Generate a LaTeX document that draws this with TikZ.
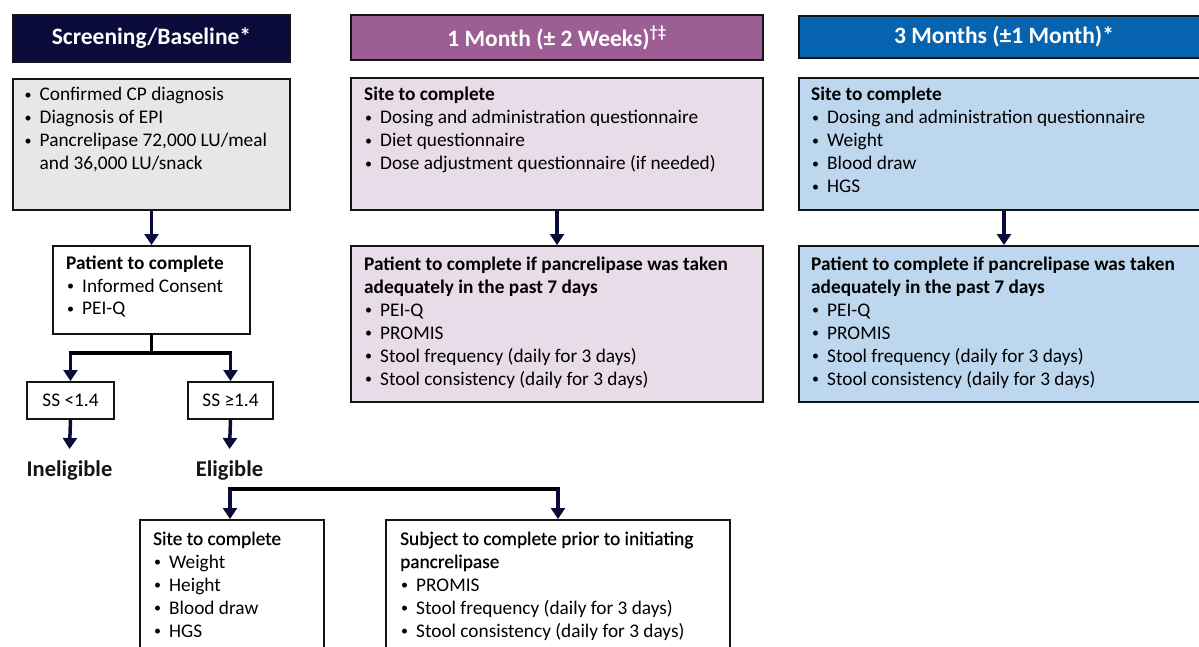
\documentclass[tikz,border=0pt]{standalone}
\usepackage{fontspec}
\setmainfont{Carlito}
\newfontfamily\semib{Carlito}[FakeBold=0.5]
\usetikzlibrary{arrows.meta}
\definecolor{navy}{HTML}{0B0B3B}
\definecolor{bordc}{HTML}{151515}
\definecolor{purph}{HTML}{9C5E93}
\definecolor{purpl}{HTML}{E8DCE9}
\definecolor{blueh}{HTML}{0563AF}
\definecolor{bluel}{HTML}{BDD7EE}
\definecolor{grayl}{HTML}{E7E7E7}
\newcommand{\bdot}{\hspace*{1pt}\raisebox{1.8pt}{\fontsize{14}{14}\selectfont •}}
\newcommand{\bitem}[1]{\par\hangindent=16pt\hangafter=1\noindent\makebox[16pt][l]{\bdot}#1}
\begin{document}
\begin{tikzpicture}[x=1pt,y=-1pt,
  box/.style={draw=bordc, line width=2pt, anchor=north west, inner sep=0pt},
  hdr/.style={draw=bordc, line width=2pt, anchor=north west, inner sep=0pt, text=white, font=\fontsize{23.5}{27}\selectfont\bfseries},
  txt/.style={anchor=base west, inner sep=0pt, font=\fontsize{19.3}{23}\selectfont},
  sstxt/.style={font=\fontsize{19.3}{23}\selectfont},
  lbl/.style={anchor=north, inner xsep=0pt, inner ysep=12pt, font=\fontsize{22.5}{26}\selectfont\bfseries, text=bordc},
  arr/.style={draw=navy, line width=3.5pt, -{Triangle[length=11pt,width=14pt]}},
  lnk/.style={draw=black, line width=3.5pt, line cap=rect}]
\useasboundingbox (0,0) rectangle (1199,647);
\clip (0,0) rectangle (1199,647);
\fill[white] (0,0) rectangle (1199,647);

% headers
\node[hdr, fill=navy, minimum width=277pt, minimum height=47pt] (h1) at (12,14) {Screening/Baseline*};
\node[hdr, fill=purph, minimum width=412pt, minimum height=45pt] (h2) at (350,14) {1 Month (± 2 Weeks)\textsuperscript{†‡}};
\node[hdr, fill=blueh, minimum width=410pt, minimum height=42pt] (h3) at (798,15) {3 Months (±1 Month)*};

% boxes
\node[box, fill=grayl, minimum width=277pt, minimum height=131pt] (g1) at (12,78) {};
\node[box, fill=white, minimum width=197pt, minimum height=88pt] (pat) at (52,245) {};
\node[box, fill=white, minimum width=87pt, minimum height=37pt, anchor=north west, sstxt] (ss1) at (26,381) {SS <1.4};
\node[box, fill=white, minimum width=85pt, minimum height=37pt, anchor=north west, sstxt] (ss2) at (187,381) {SS ≥1.4};
\node[box, fill=purpl, minimum width=412pt, minimum height=132pt] (p1) at (350,77) {};
\node[box, fill=purpl, minimum width=412pt, minimum height=156pt] (p2) at (350,245) {};
\node[box, fill=bluel, minimum width=410pt, minimum height=132pt] (b1) at (798,77) {};
\node[box, fill=bluel, minimum width=410pt, minimum height=156pt] (b2) at (798,245) {};
\node[box, fill=white, minimum width=184pt, minimum height=150pt] (site) at (139,519) {};
\node[box, fill=white, minimum width=344pt, minimum height=150pt] (subj) at (385,519) {};

% labels
\node[lbl] (inel) at (69.5,449) {Ineligible};
\node[lbl] (elig) at (229.5,449) {Eligible};

% texts
\node[txt] (tg1) at (23.5,101) {\parbox[t]{262pt}{\bitem{Confirmed CP diagnosis}\bitem{Diagnosis of EPI}\bitem{Pancrelipase 72,000 LU/meal\newline and 36,000 LU/snack}}};
\node[txt] (tpat) at (66,269) {\parbox[t]{180pt}{\textbf{Patient to complete}\bitem{Informed Consent}\bitem{PEI-Q}}};
\node[txt] (tp1) at (364,101) {\parbox[t]{395pt}{\textbf{Site to complete}\bitem{Dosing and administration questionnaire}\bitem{Diet questionnaire}\bitem{Dose adjustment questionnaire (if needed)}}};
\node[txt] (tp2) at (364,270) {\parbox[t]{395pt}{\textbf{Patient to complete if pancrelipase was taken\newline adequately in the past 7 days}\bitem{PEI-Q}\bitem{PROMIS}\bitem{Stool frequency (daily for 3 days)}\bitem{Stool consistency (daily for 3 days)}}};
\node[txt] (tb1) at (811,101) {\parbox[t]{395pt}{\textbf{Site to complete}\bitem{Dosing and administration questionnaire}\bitem{Weight}\bitem{Blood draw}\bitem{HGS}}};
\node[txt] (tb2) at (811,270) {\parbox[t]{395pt}{\textbf{Patient to complete if pancrelipase was taken\newline adequately in the past 7 days}\bitem{PEI-Q}\bitem{PROMIS}\bitem{Stool frequency (daily for 3 days)}\bitem{Stool consistency (daily for 3 days)}}};
\node[txt] (tsite) at (153,545) {\parbox[t]{165pt}{{\semib Site to complete}\bitem{Weight}\bitem{Height}\bitem{Blood draw}\bitem{HGS}}};
\node[txt] (tsubj) at (400,545) {\parbox[t]{325pt}{{\semib Subject to complete prior to initiating\newline pancrelipase}\bitem{PROMIS}\bitem{Stool frequency (daily for 3 days)}\bitem{Stool consistency (daily for 3 days)}}};

% connectors
\draw[arr] (g1.south) -- (pat.north);
\draw[arr] (p1.south) -- (p2.north);
\draw[arr] (b1.south) -- (b2.north);

\path (pat.south) ++(0,18) coordinate (j1);
\draw[lnk] (pat.south) -- (j1);
\draw[lnk] (ss1.north |- j1) -- (ss2.north |- j1);
\draw[arr] (ss1.north |- j1) -- (ss1.north);
\draw[arr] (ss2.north |- j1) -- (ss2.north);

\draw[arr] (ss1.south) -- (inel.north);
\draw[arr] (ss2.south) -- (elig.north);

\path ([xshift=-2pt]site.north) ++(0,-30) coordinate (j2);
\draw[lnk] (j2) -- (subj.north |- j2);
\draw[arr] (j2) -- ([xshift=-2pt]site.north);
\draw[arr] (subj.north |- j2) -- (subj.north);
\end{tikzpicture}
\end{document}
